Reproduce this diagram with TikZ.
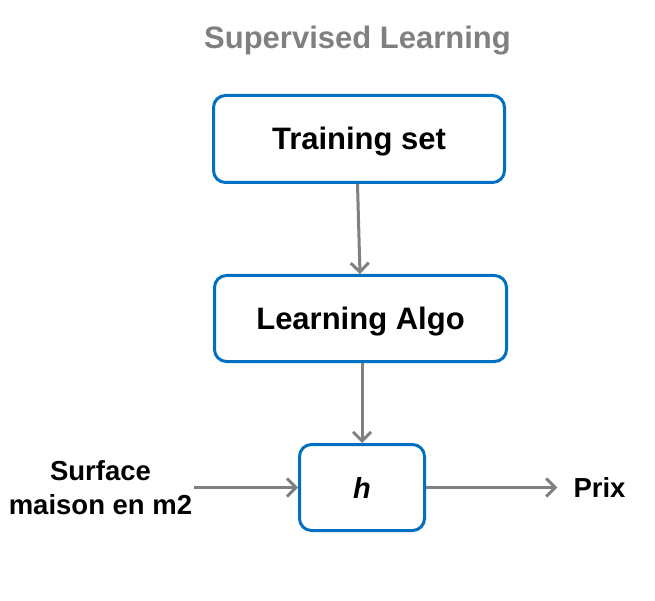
\documentclass[tikz,border=0pt]{standalone}
\usepackage{fontspec}
\setmainfont{Liberation Sans}
\usetikzlibrary{arrows.meta}
\definecolor{boxblue}{RGB}{0,112,192}
\definecolor{arrgray}{RGB}{128,128,128}
\tikzset{
  blockbox/.style={draw=boxblue, line width=3pt, rounded corners=12pt, fill=white, inner sep=0pt,
    text height=22pt, text depth=0pt, font=\fontsize{31}{36}\selectfont\bfseries},
  conn/.style={draw=arrgray, line width=3pt, -{Straight Barb[length=9pt,width=18pt,line width=3pt]}},
  plain/.style={inner sep=0pt, font=\fontsize{27.5}{34}\selectfont\bfseries},
}
\begin{document}
\begin{tikzpicture}[x=1pt,y=-1pt]
\useasboundingbox (0,0) rectangle (655,601);
\node[inner sep=0pt, text=arrgray, text height=22pt, text depth=0pt, font=\fontsize{31}{36}\selectfont\bfseries] (title) at (357.5,38) {Supervised Learning};
\node[blockbox, minimum width=291pt, minimum height=87pt] (ts) at (359,139) {Training set};
\node[blockbox, minimum width=292pt, minimum height=86pt] (la) at (360.5,318.5) {Learning Algo};
\node[blockbox, minimum width=125pt, minimum height=86pt, font=\fontsize{29}{34}\selectfont\bfseries\itshape] (h) at (362,487.5) {h};
\node[plain, align=center] (surf) at (100.5,487.5) {Surface\\maison en m2};
\node[plain] (prix) at (599.5,487.5) {Prix};
\draw[conn] ([xshift=-1.5pt]ts.south) -- ([xshift=-0.5pt]la.north);
\draw[conn] ([xshift=1.5pt]la.south) -- (h.north);
\draw[conn, shorten <=2pt] (surf.east |- h.west) -- (h.west);
\draw[conn, shorten >=16pt] (h.east) -- (prix.west);
\end{tikzpicture}
\end{document}
